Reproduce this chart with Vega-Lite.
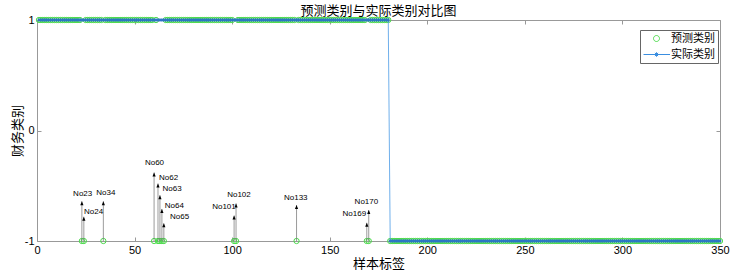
{
"$schema": "https://vega.github.io/schema/vega-lite/v6.json",
"width": 683,
"height": 221,
"autosize": {"type": "none"},
"padding": {"left": 37, "top": 20, "right": 12, "bottom": 30},
"background": "white",
"config": {"view": {"stroke": null}},
"title": {"text": "预测类别与实际类别对比图", "font": "Noto Sans CJK SC", "fontSize": 13, "fontWeight": "normal", "color": "black", "offset": -4, "anchor": "middle"},
"datasets": {
"main": [
{"i":1,"a":1,"p":1},{"i":2,"a":1,"p":1},{"i":3,"a":1,"p":1},{"i":4,"a":1,"p":1},{"i":5,"a":1,"p":1},{"i":6,"a":1,"p":1},{"i":7,"a":1,"p":1},{"i":8,"a":1,"p":1},{"i":9,"a":1,"p":1},{"i":10,"a":1,"p":1},
{"i":11,"a":1,"p":1},{"i":12,"a":1,"p":1},{"i":13,"a":1,"p":1},{"i":14,"a":1,"p":1},{"i":15,"a":1,"p":1},{"i":16,"a":1,"p":1},{"i":17,"a":1,"p":1},{"i":18,"a":1,"p":1},{"i":19,"a":1,"p":1},{"i":20,"a":1,"p":1},
{"i":21,"a":1,"p":1},{"i":22,"a":1,"p":1},{"i":23,"a":1,"p":-1},{"i":24,"a":1,"p":-1},{"i":25,"a":1,"p":1},{"i":26,"a":1,"p":1},{"i":27,"a":1,"p":1},{"i":28,"a":1,"p":1},{"i":29,"a":1,"p":1},{"i":30,"a":1,"p":1},
{"i":31,"a":1,"p":1},{"i":32,"a":1,"p":1},{"i":33,"a":1,"p":1},{"i":34,"a":1,"p":-1},{"i":35,"a":1,"p":1},{"i":36,"a":1,"p":1},{"i":37,"a":1,"p":1},{"i":38,"a":1,"p":1},{"i":39,"a":1,"p":1},{"i":40,"a":1,"p":1},
{"i":41,"a":1,"p":1},{"i":42,"a":1,"p":1},{"i":43,"a":1,"p":1},{"i":44,"a":1,"p":1},{"i":45,"a":1,"p":1},{"i":46,"a":1,"p":1},{"i":47,"a":1,"p":1},{"i":48,"a":1,"p":1},{"i":49,"a":1,"p":1},{"i":50,"a":1,"p":1},
{"i":51,"a":1,"p":1},{"i":52,"a":1,"p":1},{"i":53,"a":1,"p":1},{"i":54,"a":1,"p":1},{"i":55,"a":1,"p":1},{"i":56,"a":1,"p":1},{"i":57,"a":1,"p":1},{"i":58,"a":1,"p":1},{"i":59,"a":1,"p":1},{"i":60,"a":1,"p":-1},
{"i":61,"a":1,"p":1},{"i":62,"a":1,"p":-1},{"i":63,"a":1,"p":-1},{"i":64,"a":1,"p":-1},{"i":65,"a":1,"p":-1},{"i":66,"a":1,"p":1},{"i":67,"a":1,"p":1},{"i":68,"a":1,"p":1},{"i":69,"a":1,"p":1},{"i":70,"a":1,"p":1},
{"i":71,"a":1,"p":1},{"i":72,"a":1,"p":1},{"i":73,"a":1,"p":1},{"i":74,"a":1,"p":1},{"i":75,"a":1,"p":1},{"i":76,"a":1,"p":1},{"i":77,"a":1,"p":1},{"i":78,"a":1,"p":1},{"i":79,"a":1,"p":1},{"i":80,"a":1,"p":1},
{"i":81,"a":1,"p":1},{"i":82,"a":1,"p":1},{"i":83,"a":1,"p":1},{"i":84,"a":1,"p":1},{"i":85,"a":1,"p":1},{"i":86,"a":1,"p":1},{"i":87,"a":1,"p":1},{"i":88,"a":1,"p":1},{"i":89,"a":1,"p":1},{"i":90,"a":1,"p":1},
{"i":91,"a":1,"p":1},{"i":92,"a":1,"p":1},{"i":93,"a":1,"p":1},{"i":94,"a":1,"p":1},{"i":95,"a":1,"p":1},{"i":96,"a":1,"p":1},{"i":97,"a":1,"p":1},{"i":98,"a":1,"p":1},{"i":99,"a":1,"p":1},{"i":100,"a":1,"p":1},
{"i":101,"a":1,"p":-1},{"i":102,"a":1,"p":-1},{"i":103,"a":1,"p":1},{"i":104,"a":1,"p":1},{"i":105,"a":1,"p":1},{"i":106,"a":1,"p":1},{"i":107,"a":1,"p":1},{"i":108,"a":1,"p":1},{"i":109,"a":1,"p":1},{"i":110,"a":1,"p":1},
{"i":111,"a":1,"p":1},{"i":112,"a":1,"p":1},{"i":113,"a":1,"p":1},{"i":114,"a":1,"p":1},{"i":115,"a":1,"p":1},{"i":116,"a":1,"p":1},{"i":117,"a":1,"p":1},{"i":118,"a":1,"p":1},{"i":119,"a":1,"p":1},{"i":120,"a":1,"p":1},
{"i":121,"a":1,"p":1},{"i":122,"a":1,"p":1},{"i":123,"a":1,"p":1},{"i":124,"a":1,"p":1},{"i":125,"a":1,"p":1},{"i":126,"a":1,"p":1},{"i":127,"a":1,"p":1},{"i":128,"a":1,"p":1},{"i":129,"a":1,"p":1},{"i":130,"a":1,"p":1},
{"i":131,"a":1,"p":1},{"i":132,"a":1,"p":1},{"i":133,"a":1,"p":-1},{"i":134,"a":1,"p":1},{"i":135,"a":1,"p":1},{"i":136,"a":1,"p":1},{"i":137,"a":1,"p":1},{"i":138,"a":1,"p":1},{"i":139,"a":1,"p":1},{"i":140,"a":1,"p":1},
{"i":141,"a":1,"p":1},{"i":142,"a":1,"p":1},{"i":143,"a":1,"p":1},{"i":144,"a":1,"p":1},{"i":145,"a":1,"p":1},{"i":146,"a":1,"p":1},{"i":147,"a":1,"p":1},{"i":148,"a":1,"p":1},{"i":149,"a":1,"p":1},{"i":150,"a":1,"p":1},
{"i":151,"a":1,"p":1},{"i":152,"a":1,"p":1},{"i":153,"a":1,"p":1},{"i":154,"a":1,"p":1},{"i":155,"a":1,"p":1},{"i":156,"a":1,"p":1},{"i":157,"a":1,"p":1},{"i":158,"a":1,"p":1},{"i":159,"a":1,"p":1},{"i":160,"a":1,"p":1},
{"i":161,"a":1,"p":1},{"i":162,"a":1,"p":1},{"i":163,"a":1,"p":1},{"i":164,"a":1,"p":1},{"i":165,"a":1,"p":1},{"i":166,"a":1,"p":1},{"i":167,"a":1,"p":1},{"i":168,"a":1,"p":1},{"i":169,"a":1,"p":-1},{"i":170,"a":1,"p":-1},
{"i":171,"a":1,"p":1},{"i":172,"a":1,"p":1},{"i":173,"a":1,"p":1},{"i":174,"a":1,"p":1},{"i":175,"a":1,"p":1},{"i":176,"a":1,"p":1},{"i":177,"a":1,"p":1},{"i":178,"a":1,"p":1},{"i":179,"a":1,"p":1},{"i":180,"a":1,"p":1},
{"i":181,"a":-1,"p":-1},{"i":182,"a":-1,"p":-1},{"i":183,"a":-1,"p":-1},{"i":184,"a":-1,"p":-1},{"i":185,"a":-1,"p":-1},{"i":186,"a":-1,"p":-1},{"i":187,"a":-1,"p":-1},{"i":188,"a":-1,"p":-1},{"i":189,"a":-1,"p":-1},{"i":190,"a":-1,"p":-1},
{"i":191,"a":-1,"p":-1},{"i":192,"a":-1,"p":-1},{"i":193,"a":-1,"p":-1},{"i":194,"a":-1,"p":-1},{"i":195,"a":-1,"p":-1},{"i":196,"a":-1,"p":-1},{"i":197,"a":-1,"p":-1},{"i":198,"a":-1,"p":-1},{"i":199,"a":-1,"p":-1},{"i":200,"a":-1,"p":-1},
{"i":201,"a":-1,"p":-1},{"i":202,"a":-1,"p":-1},{"i":203,"a":-1,"p":-1},{"i":204,"a":-1,"p":-1},{"i":205,"a":-1,"p":-1},{"i":206,"a":-1,"p":-1},{"i":207,"a":-1,"p":-1},{"i":208,"a":-1,"p":-1},{"i":209,"a":-1,"p":-1},{"i":210,"a":-1,"p":-1},
{"i":211,"a":-1,"p":-1},{"i":212,"a":-1,"p":-1},{"i":213,"a":-1,"p":-1},{"i":214,"a":-1,"p":-1},{"i":215,"a":-1,"p":-1},{"i":216,"a":-1,"p":-1},{"i":217,"a":-1,"p":-1},{"i":218,"a":-1,"p":-1},{"i":219,"a":-1,"p":-1},{"i":220,"a":-1,"p":-1},
{"i":221,"a":-1,"p":-1},{"i":222,"a":-1,"p":-1},{"i":223,"a":-1,"p":-1},{"i":224,"a":-1,"p":-1},{"i":225,"a":-1,"p":-1},{"i":226,"a":-1,"p":-1},{"i":227,"a":-1,"p":-1},{"i":228,"a":-1,"p":-1},{"i":229,"a":-1,"p":-1},{"i":230,"a":-1,"p":-1},
{"i":231,"a":-1,"p":-1},{"i":232,"a":-1,"p":-1},{"i":233,"a":-1,"p":-1},{"i":234,"a":-1,"p":-1},{"i":235,"a":-1,"p":-1},{"i":236,"a":-1,"p":-1},{"i":237,"a":-1,"p":-1},{"i":238,"a":-1,"p":-1},{"i":239,"a":-1,"p":-1},{"i":240,"a":-1,"p":-1},
{"i":241,"a":-1,"p":-1},{"i":242,"a":-1,"p":-1},{"i":243,"a":-1,"p":-1},{"i":244,"a":-1,"p":-1},{"i":245,"a":-1,"p":-1},{"i":246,"a":-1,"p":-1},{"i":247,"a":-1,"p":-1},{"i":248,"a":-1,"p":-1},{"i":249,"a":-1,"p":-1},{"i":250,"a":-1,"p":-1},
{"i":251,"a":-1,"p":-1},{"i":252,"a":-1,"p":-1},{"i":253,"a":-1,"p":-1},{"i":254,"a":-1,"p":-1},{"i":255,"a":-1,"p":-1},{"i":256,"a":-1,"p":-1},{"i":257,"a":-1,"p":-1},{"i":258,"a":-1,"p":-1},{"i":259,"a":-1,"p":-1},{"i":260,"a":-1,"p":-1},
{"i":261,"a":-1,"p":-1},{"i":262,"a":-1,"p":-1},{"i":263,"a":-1,"p":-1},{"i":264,"a":-1,"p":-1},{"i":265,"a":-1,"p":-1},{"i":266,"a":-1,"p":-1},{"i":267,"a":-1,"p":-1},{"i":268,"a":-1,"p":-1},{"i":269,"a":-1,"p":-1},{"i":270,"a":-1,"p":-1},
{"i":271,"a":-1,"p":-1},{"i":272,"a":-1,"p":-1},{"i":273,"a":-1,"p":-1},{"i":274,"a":-1,"p":-1},{"i":275,"a":-1,"p":-1},{"i":276,"a":-1,"p":-1},{"i":277,"a":-1,"p":-1},{"i":278,"a":-1,"p":-1},{"i":279,"a":-1,"p":-1},{"i":280,"a":-1,"p":-1},
{"i":281,"a":-1,"p":-1},{"i":282,"a":-1,"p":-1},{"i":283,"a":-1,"p":-1},{"i":284,"a":-1,"p":-1},{"i":285,"a":-1,"p":-1},{"i":286,"a":-1,"p":-1},{"i":287,"a":-1,"p":-1},{"i":288,"a":-1,"p":-1},{"i":289,"a":-1,"p":-1},{"i":290,"a":-1,"p":-1},
{"i":291,"a":-1,"p":-1},{"i":292,"a":-1,"p":-1},{"i":293,"a":-1,"p":-1},{"i":294,"a":-1,"p":-1},{"i":295,"a":-1,"p":-1},{"i":296,"a":-1,"p":-1},{"i":297,"a":-1,"p":-1},{"i":298,"a":-1,"p":-1},{"i":299,"a":-1,"p":-1},{"i":300,"a":-1,"p":-1},
{"i":301,"a":-1,"p":-1},{"i":302,"a":-1,"p":-1},{"i":303,"a":-1,"p":-1},{"i":304,"a":-1,"p":-1},{"i":305,"a":-1,"p":-1},{"i":306,"a":-1,"p":-1},{"i":307,"a":-1,"p":-1},{"i":308,"a":-1,"p":-1},{"i":309,"a":-1,"p":-1},{"i":310,"a":-1,"p":-1},
{"i":311,"a":-1,"p":-1},{"i":312,"a":-1,"p":-1},{"i":313,"a":-1,"p":-1},{"i":314,"a":-1,"p":-1},{"i":315,"a":-1,"p":-1},{"i":316,"a":-1,"p":-1},{"i":317,"a":-1,"p":-1},{"i":318,"a":-1,"p":-1},{"i":319,"a":-1,"p":-1},{"i":320,"a":-1,"p":-1},
{"i":321,"a":-1,"p":-1},{"i":322,"a":-1,"p":-1},{"i":323,"a":-1,"p":-1},{"i":324,"a":-1,"p":-1},{"i":325,"a":-1,"p":-1},{"i":326,"a":-1,"p":-1},{"i":327,"a":-1,"p":-1},{"i":328,"a":-1,"p":-1},{"i":329,"a":-1,"p":-1},{"i":330,"a":-1,"p":-1},
{"i":331,"a":-1,"p":-1},{"i":332,"a":-1,"p":-1},{"i":333,"a":-1,"p":-1},{"i":334,"a":-1,"p":-1},{"i":335,"a":-1,"p":-1},{"i":336,"a":-1,"p":-1},{"i":337,"a":-1,"p":-1},{"i":338,"a":-1,"p":-1},{"i":339,"a":-1,"p":-1},{"i":340,"a":-1,"p":-1},
{"i":341,"a":-1,"p":-1},{"i":342,"a":-1,"p":-1},{"i":343,"a":-1,"p":-1},{"i":344,"a":-1,"p":-1},{"i":345,"a":-1,"p":-1},{"i":346,"a":-1,"p":-1},{"i":347,"a":-1,"p":-1},{"i":348,"a":-1,"p":-1},{"i":349,"a":-1,"p":-1},{"i":350,"a":-1,"p":-1}
],
"notes": [
{"n":"No23","x":23,"t":-0.64,"tx":23.4,"ty":-0.575},
{"n":"No24","x":24,"t":-0.78,"tx":29,"ty":-0.74},
{"n":"No34","x":34,"t":-0.64,"tx":35.3,"ty":-0.565},
{"n":"No60","x":60,"t":-0.38,"tx":60.2,"ty":-0.295},
{"n":"No62","x":62,"t":-0.48,"tx":67.4,"ty":-0.43},
{"n":"No63","x":63,"t":-0.585,"tx":69.2,"ty":-0.53},
{"n":"No64","x":64,"t":-0.71,"tx":70.4,"ty":-0.68},
{"n":"No65","x":65,"t":-0.84,"tx":73.1,"ty":-0.78},
{"n":"No101","x":101,"t":-0.77,"tx":95.8,"ty":-0.69},
{"n":"No102","x":102,"t":-0.66,"tx":103.5,"ty":-0.585},
{"n":"No133","x":133,"t":-0.675,"tx":132.6,"ty":-0.615},
{"n":"No169","x":169,"t":-0.835,"tx":162.6,"ty":-0.76},
{"n":"No170","x":170,"t":-0.72,"tx":168.8,"ty":-0.65}
]
},
"resolve": {"axis": {"x": "independent", "y": "independent"}},
"layer": [
{
"data": {"name": "main"},
"mark": {"type": "point", "shape": "circle", "filled": false, "size": 28, "strokeWidth": 1, "opacity": 1, "color": "#4ddb4d"},
"encoding": {
"x": {"field": "i", "type": "quantitative", "scale": {"domain": [0, 350], "nice": false, "zero": false},
"axis": {"orient": "bottom", "values": [0,50,100,150,200,250,300,350], "tickSize": -4, "tickColor": "#999999", "domainColor": "#999999", "grid": false, "labelFont": "Liberation Sans", "labelFontSize": 11, "labelColor": "black", "labelPadding": 7, "labelFlush": false, "labelOverlap": false, "title": "样本标签", "titleFont": "Noto Sans CJK SC", "titleFontSize": 13, "titleFontWeight": "normal", "titleColor": "black", "titlePadding": 2}},
"y": {"field": "p", "type": "quantitative", "scale": {"domain": [-1, 1], "nice": false, "zero": false},
"axis": {"orient": "left", "values": [-1,0,1], "labelExpr": "datum.value > 0.5 ? '1' : (datum.value < -0.5 ? '-1' : '0')", "tickSize": -4, "tickColor": "#999999", "domainColor": "#999999", "grid": false, "labelFont": "Liberation Sans", "labelFontSize": 11, "labelColor": "black", "labelPadding": 7, "labelFlush": false, "labelOverlap": false, "labelBound": false, "title": "财务类别", "titleFont": "Noto Sans CJK SC", "titleFontSize": 13, "titleFontWeight": "normal", "titleColor": "black", "titlePadding": 0}}
}
},
{
"data": {"name": "main"},
"mark": {"type": "line", "color": "#4a9be6", "strokeWidth": 0.8},
"encoding": {
"x": {"field": "i", "type": "quantitative", "axis": {"orient": "top", "values": [0,50,100,150,200,250,300,350], "tickSize": -4, "tickColor": "#999999", "domainColor": "#999999", "grid": false, "labels": false, "title": null}},
"y": {"field": "a", "type": "quantitative", "axis": {"orient": "right", "values": [-1,0,1], "tickSize": -4, "tickColor": "#999999", "domainColor": "#999999", "grid": false, "labels": false, "title": null}}
}
},
{
"data": {"name": "main"},
"mark": {"type": "point", "shape": "M-1,0L1,0M0,-1L0,1M-0.7,-0.7L0.7,0.7M-0.7,0.7L0.7,-0.7", "filled": false, "size": 12, "strokeWidth": 0.8, "color": "#2a72c8", "opacity": 1},
"encoding": {
"x": {"field": "i", "type": "quantitative", "axis": null},
"y": {"field": "a", "type": "quantitative", "axis": null}
}
},
{
"data": {"name": "notes"},
"mark": {"type": "rule", "color": "#707070", "strokeWidth": 0.7},
"encoding": {
"x": {"field": "x", "type": "quantitative", "axis": null},
"y": {"field": "t", "type": "quantitative", "axis": null},
"y2": {"datum": -1}
}
},
{
"data": {"name": "notes"},
"mark": {"type": "point", "shape": "M0,0L0.8,2L-0.8,2Z", "filled": true, "size": 16, "color": "black", "opacity": 1},
"encoding": {
"x": {"field": "x", "type": "quantitative", "axis": null},
"y": {"field": "t", "type": "quantitative", "axis": null}
}
},
{
"data": {"name": "notes"},
"mark": {"type": "text", "font": "Liberation Sans", "fontSize": 8, "color": "black", "align": "center", "baseline": "middle"},
"encoding": {
"x": {"field": "tx", "type": "quantitative", "axis": null},
"y": {"field": "ty", "type": "quantitative", "axis": null},
"text": {"field": "n"}
}
},
{
"data": {"name": "notes"},
"mark": {"type": "point", "opacity": 0, "filled": false, "strokeWidth": 1},
"encoding": {
"x": {"field": "x", "type": "quantitative", "axis": null},
"y": {"field": "t", "type": "quantitative", "axis": null},
"color": {"datum": "预测类别", "type": "nominal", "scale": {"domain": ["预测类别", "实际类别"], "range": ["#4ddb4d", "#3a8ee0"]},
"legend": {"orient": "none", "legendX": 603, "legendY": 10, "title": null, "strokeColor": "#666666", "fillColor": "white", "padding": 3, "symbolSize": 100, "symbolStrokeWidth": 1, "labelFont": "Noto Sans CJK SC", "labelFontSize": 11, "labelColor": "black", "labelOffset": 17, "rowPadding": 4}},
"shape": {"datum": "预测类别", "type": "nominal", "scale": {"domain": ["预测类别", "实际类别"], "range": ["M2.2,0A0.6,0.6,0,1,1,1.0,0A0.6,0.6,0,1,1,2.2,0Z", "M-1,0L4.3,0M1.6,-0.45L1.6,0.45M1.28,-0.32L1.92,0.32M1.28,0.32L1.92,-0.32"]},
"legend": {"orient": "none", "legendX": 603, "legendY": 10, "title": null, "strokeColor": "#666666", "fillColor": "white", "padding": 3, "symbolSize": 100, "symbolStrokeWidth": 1, "labelFont": "Noto Sans CJK SC", "labelFontSize": 11, "labelColor": "black", "labelOffset": 17, "rowPadding": 4}}
}
}
]
}
